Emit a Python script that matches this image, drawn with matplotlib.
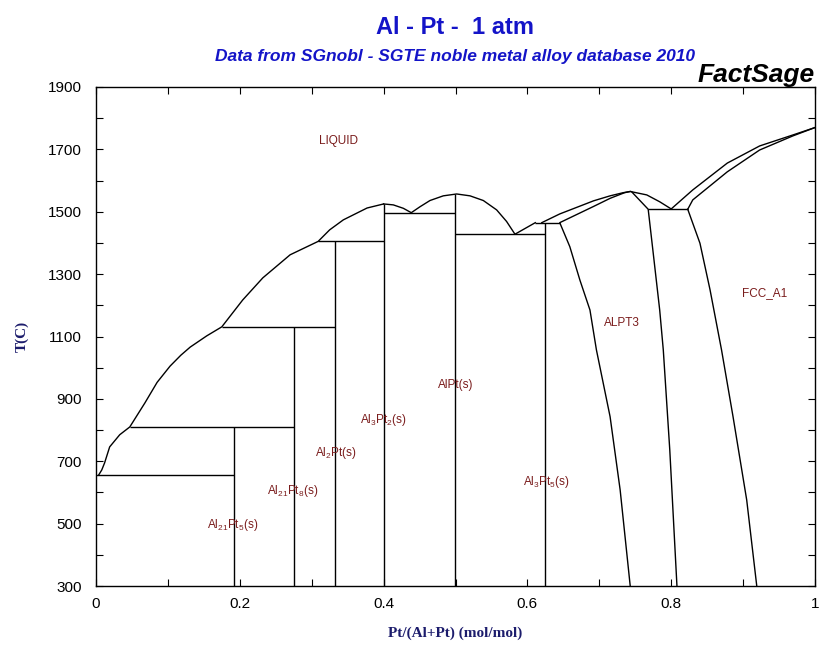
import matplotlib
matplotlib.use("Agg")
import matplotlib.pyplot as plt
from matplotlib.ticker import MultipleLocator

# ---- phase boundaries of the Al-Pt system (x = Pt mole fraction, T in C) ----
# liquidus from pure Al up to the Al3Pt2 melting point
liq_al_x = [0.004, 0.008, 0.012, 0.019, 0.033, 0.047, 0.068, 0.085, 0.103, 0.118,
            0.131, 0.154, 0.175, 0.204, 0.232, 0.270, 0.309, 0.325, 0.344, 0.377, 0.400]
liq_al_t = [657, 672, 695, 746, 785, 810, 887, 953, 1005, 1040,
            1066, 1102, 1131, 1217, 1288, 1362, 1405, 1442, 1474, 1512, 1525]

# liquidus over Al3Pt2 / AlPt / Al3Pt5
liq_mid_x = [0.400, 0.4135, 0.4275, 0.4385, 0.4506, 0.4645, 0.483, 0.5016, 0.5202,
             0.5387, 0.5572, 0.571, 0.5827, 0.611]
liq_mid_t = [1525, 1522, 1511, 1497, 1516, 1536, 1551, 1557, 1551,
             1536, 1506, 1469, 1428, 1465]

# ALPT3 liquidus (left of its maximum) and right side down to the eutectic
liq_alpt3_x = [0.620, 0.645, 0.673, 0.692, 0.715, 0.733, 0.743, 0.766, 0.784, 0.800]
liq_alpt3_t = [1465, 1493, 1518, 1535, 1551, 1561, 1565, 1554, 1532, 1509]

# ALPT3 left boundary (solidus then solvus)
alpt3_left_x = [0.743, 0.735, 0.715, 0.692, 0.673, 0.645, 0.659, 0.673, 0.687,
                0.696, 0.715, 0.729, 0.743]
alpt3_left_t = [1565, 1561, 1543, 1517, 1496, 1465, 1388, 1281, 1185,
                1057, 843, 608, 300]

# ALPT3 right boundary
alpt3_right_x = [0.745, 0.768, 0.775, 0.784, 0.789, 0.798, 0.808]
alpt3_right_t = [1564, 1508, 1367, 1185, 1057, 737, 300]

# FCC_A1 solvus
fcc_solvus_x = [0.823, 0.840, 0.854, 0.870, 0.886, 0.905, 0.919]
fcc_solvus_t = [1508, 1399, 1250, 1057, 843, 576, 300]

# Pt-side liquidus and solidus
liq_pt_x = [0.800, 0.830, 0.878, 0.923, 0.969, 1.000]
liq_pt_t = [1509, 1570, 1656, 1711, 1746, 1770]
sol_pt_x = [0.823, 0.830, 0.878, 0.923, 0.969, 1.000]
sol_pt_t = [1508, 1538, 1628, 1698, 1743, 1770]

# invariant reactions: (x start, x end, T)
inv_x0 = [0.000, 0.047, 0.175, 0.309, 0.400, 0.500, 0.611, 0.768]
inv_x1 = [0.192, 0.276, 0.333, 0.400, 0.500, 0.625, 0.645, 0.823]
inv_t = [657, 810, 1131, 1405, 1497, 1428, 1465, 1508]

# stoichiometric compounds: composition and upper temperature
comp_x = [0.192, 0.276, 0.333, 0.400, 0.500, 0.625]
comp_top = [810, 1131, 1405, 1525, 1557, 1465]

# phase-field labels
lab_text = ["LIQUID", "FCC_A1", "ALPT3", "AlPt(s)",
            r"Al$_{\mathregular{3}}$Pt$_{\mathregular{2}}$(s)",
            r"Al$_{\mathregular{2}}$Pt(s)",
            r"Al$_{\mathregular{21}}$Pt$_{\mathregular{8}}$(s)",
            r"Al$_{\mathregular{21}}$Pt$_{\mathregular{5}}$(s)",
            r"Al$_{\mathregular{3}}$Pt$_{\mathregular{5}}$(s)"]
lab_x = [0.337, 0.930, 0.732, 0.500, 0.400, 0.333, 0.274, 0.190, 0.627]
lab_t = [1727, 1240, 1144, 945, 833, 727, 605, 496, 634]

x_ticks = [0, 0.2, 0.4, 0.6, 0.8, 1]
x_tick_labels = ["0", "0.2", "0.4", "0.6", "0.8", "1"]
y_ticks = [300, 500, 700, 900, 1100, 1300, 1500, 1700, 1900]

sans = ["Liberation Sans", "DejaVu Sans"]

fig = plt.figure(figsize=(8.2, 6.48), dpi=100)
ax = fig.add_axes([96 / 820, 1 - 586 / 648, 719 / 820, 499 / 648])

lw = 1.0
kw = dict(color="black", lw=lw, solid_joinstyle="round")
for xs, ts in [(liq_al_x, liq_al_t), (liq_mid_x, liq_mid_t), (liq_alpt3_x, liq_alpt3_t),
               (alpt3_left_x, alpt3_left_t), (alpt3_right_x, alpt3_right_t),
               (fcc_solvus_x, fcc_solvus_t), (liq_pt_x, liq_pt_t), (sol_pt_x, sol_pt_t)]:
    ax.plot(xs, ts, **kw)

ax.hlines(inv_t, inv_x0, inv_x1, colors="black", lw=lw)
ax.vlines(comp_x, 300, comp_top, colors="black", lw=lw)

for s, x, t in zip(lab_text, lab_x, lab_t):
    ax.text(x, t, s, color="#7a1c1c", fontsize=8.5, ha="center", va="center",
            family="Liberation Sans")

ax.set_xlim(0, 1)
ax.set_ylim(300, 1900)
ax.set_xticks(x_ticks)
ax.set_xticklabels(x_tick_labels)
ax.set_yticks(y_ticks)
ax.xaxis.set_minor_locator(MultipleLocator(0.1))
ax.yaxis.set_minor_locator(MultipleLocator(100))
ax.tick_params(which="both", direction="in", top=True, right=True, length=5,
               width=0.8, labelsize=11)
ax.tick_params(axis="x", pad=8)
ax.tick_params(axis="y", pad=10)
for lbl in ax.get_xticklabels() + ax.get_yticklabels():
    lbl.set_family(sans)
for sp in ax.spines.values():
    sp.set_linewidth(1.0)

ax.set_xlabel("Pt/(Al+Pt) (mol/mol)", family="Liberation Serif", fontweight="bold",
              fontsize=11, color="#1c1c6c", labelpad=11)
ax.set_ylabel("T(C)", family="Liberation Serif", fontweight="bold",
              fontsize=11, color="#1c1c6c", labelpad=14)

fig.text(455 / 820, 1 - 27 / 648, "Al - Pt -  1 atm", ha="center", va="center",
         fontsize=17, fontweight="bold", color="#1414c8", family=sans)
fig.text(455 / 820, 1 - 57 / 648, "Data from SGnobl - SGTE noble metal alloy database 2010",
         ha="center", va="center", fontsize=12.5, fontweight="bold", style="italic",
         color="#1414c8", family=sans)
fig.text(815 / 820, 1 - 75 / 648, "FactSage", ha="right", va="center",
         fontsize=19, fontweight="bold", style="italic", color="black", family=sans)

fig.savefig("out.png", dpi=100, facecolor="white")
